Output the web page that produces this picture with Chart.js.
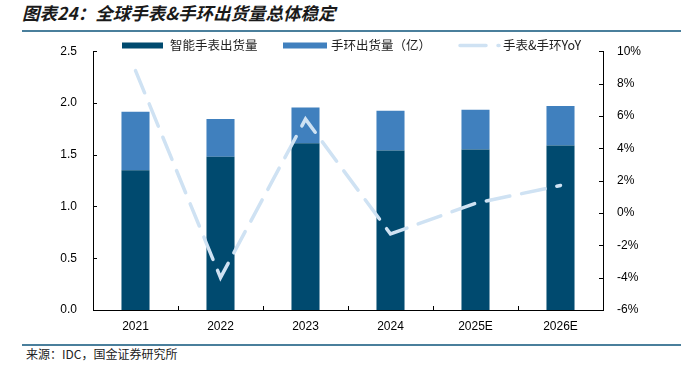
<!DOCTYPE html>
<html lang="zh-CN">
<head>
<meta charset="utf-8">
<script src="https://cdn.jsdelivr.net/npm/chart.js@4"></script>
<style>
  body { margin: 0; width: 681px; height: 365px; background: #fff; position: relative; overflow: hidden; font-family: "Noto Sans CJK SC", sans-serif; }
  #titulo { position: absolute; left: 22px; top: 0px; font-size: 17.5px; font-weight: bold; font-style: italic; color: #1a1a1a; white-space: nowrap; }
  .linha { position: absolute; left: 22px; right: 0; height: 2px; background: #4a7f9c; }
  #fonte { position: absolute; left: 26px; top: 344px; font-size: 12px; color: #222; white-space: nowrap; }
  #grafico { position: absolute; left: 0; top: 28px; }
</style>
</head>
<body>
<div id="titulo">图表24：全球手表&amp;手环出货量总体稳定</div>
<div class="linha" style="top:30px"></div>
<canvas id="grafico" width="681" height="309"></canvas>
<div class="linha" style="top:344px"></div>
<div id="fonte" style="top:345px">来源：IDC，国金证券研究所</div>
<script>
const anos = ['2021', '2022', '2023', '2024', '2025E', '2026E'];
const relogios = [1.35, 1.48, 1.61, 1.54, 1.55, 1.59];
const pulseiras = [0.565, 0.365, 0.345, 0.385, 0.385, 0.38];
const yoy = [8.8, -4.0, 5.8, -1.3, 0.6, 1.7];

const fonteEixo = { family: '"Liberation Sans", Arial, sans-serif', size: 12 };

// ticks pointing into the plot, like the original
const marcasInternas = {
    id: 'marcasInternas',
    afterDraw(chart) {
        const { ctx, chartArea, scales } = chart;
        ctx.save();
        ctx.strokeStyle = '#000';
        ctx.lineWidth = 1;
        const risco = (x1, y1, x2, y2) => { ctx.beginPath(); ctx.moveTo(x1, y1); ctx.lineTo(x2, y2); ctx.stroke(); };
        scales.y.ticks.forEach(t => {
            const py = Math.round(scales.y.getPixelForValue(t.value)) + 0.5;
            risco(chartArea.left, py, chartArea.left + 4, py);
        });
        scales.y1.ticks.forEach(t => {
            const py = Math.round(scales.y1.getPixelForValue(t.value)) + 0.5;
            risco(chartArea.right - 4, py, chartArea.right, py);
        });
        for (let i = 1; i < anos.length; i++) {
            const px = Math.round((scales.x.getPixelForValue(i - 1) + scales.x.getPixelForValue(i)) / 2) + 0.5;
            risco(px, chartArea.bottom, px, chartArea.bottom - 4);
        }
        ctx.restore();
    }
};

// legend drawn by hand so it can sit on the top edge of the plot
const legenda = {
    id: 'legenda',
    afterDraw(chart) {
        const { ctx } = chart;
        const ds = chart.data.datasets;
        const y = 17.5;
        ctx.save();
        ctx.font = '12.5px "Noto Sans CJK SC", sans-serif';
        ctx.textBaseline = 'middle';
        ctx.fillStyle = ds[0].backgroundColor;
        ctx.fillRect(122, y - 3, 41, 6);
        ctx.fillStyle = '#222';
        ctx.fillText(ds[0].label, 170, y);
        ctx.fillStyle = ds[1].backgroundColor;
        ctx.fillRect(283, y - 3, 44, 6);
        ctx.fillStyle = '#222';
        ctx.fillText(ds[1].label, 331, y);
        ctx.strokeStyle = ds[2].borderColor;
        ctx.lineWidth = 3.5;
        ctx.lineCap = 'round';
        ctx.setLineDash([26, 12]);
        ctx.beginPath();
        ctx.moveTo(460, y);
        ctx.lineTo(499, y);
        ctx.stroke();
        ctx.setLineDash([]);
        ctx.fillStyle = '#222';
        ctx.fillText(ds[2].label, 503, y);
        ctx.restore();
    }
};

new Chart(document.getElementById('grafico'), {
    type: 'bar',
    data: {
        labels: anos,
        datasets: [{
            label: '智能手表出货量',
            data: relogios,
            backgroundColor: '#004a6f',
            barPercentage: 0.33,
            categoryPercentage: 1,
            yAxisID: 'y',
            order: 1
        }, {
            label: '手环出货量（亿）',
            data: pulseiras,
            backgroundColor: '#4080be',
            barPercentage: 0.33,
            categoryPercentage: 1,
            yAxisID: 'y',
            order: 1
        }, {
            type: 'line',
            label: '手表&手环YoY',
            data: yoy,
            borderColor: '#cfe2f3',
            borderWidth: 3.5,
            borderDash: [24, 12],
            borderCapStyle: 'round',
            pointRadius: 0,
            tension: 0,
            fill: false,
            yAxisID: 'y1',
            order: 0
        }]
    },
    options: {
        responsive: false,
        animation: false,
        layout: { padding: { top: 7, left: 0, right: 0, bottom: 0 } },
        plugins: { legend: { display: false }, tooltip: { enabled: false } },
        scales: {
            x: {
                stacked: true,
                grid: { display: false, drawTicks: false },
                border: { display: true, color: '#000', width: 1 },
                ticks: { font: fonteEixo, color: '#000', padding: 9 },
                afterFit: s => { s.height = 27; }
            },
            y: {
                position: 'left',
                stacked: true,
                min: 0,
                max: 2.5,
                grid: { display: false, drawTicks: false },
                border: { display: true, color: '#000', width: 1 },
                ticks: { stepSize: 0.5, font: fonteEixo, color: '#000', padding: 16, callback: v => v.toFixed(1) },
                afterFit: s => { s.width = 93; }
            },
            y1: {
                position: 'right',
                min: -6,
                max: 10,
                grid: { display: false, drawTicks: false },
                border: { display: true, color: '#000', width: 1 },
                ticks: { stepSize: 2, font: fonteEixo, color: '#000', padding: 14, callback: v => v + '%' },
                afterFit: s => { s.width = 78; }
            }
        }
    },
    plugins: [marcasInternas, legenda]
});
</script>
</body>
</html>
